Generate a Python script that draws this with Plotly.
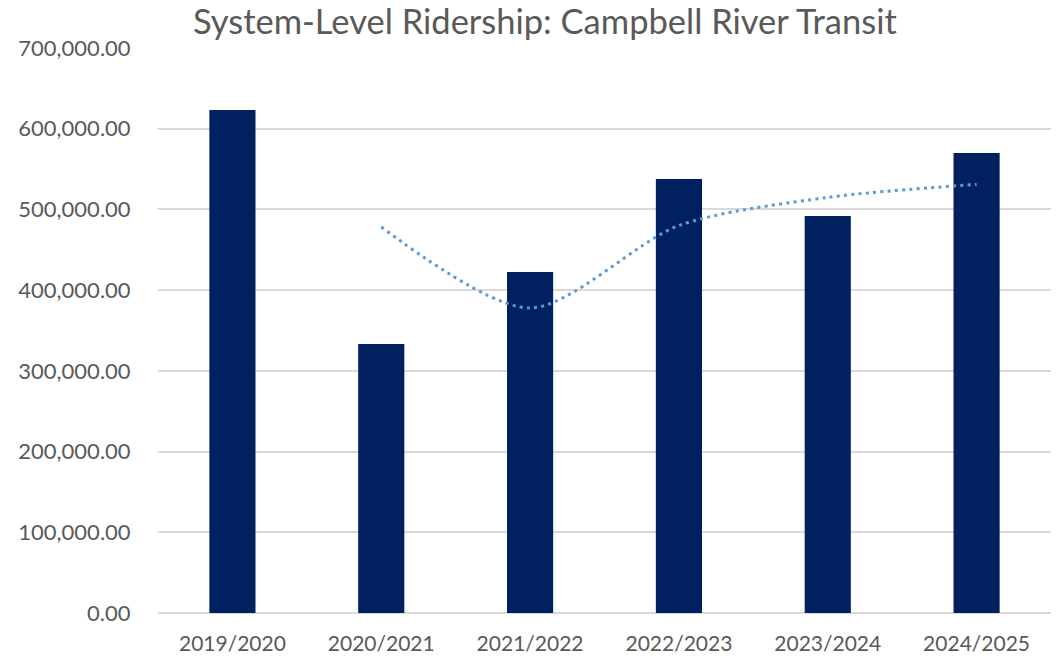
import plotly.graph_objects as go

categories = ["2019/2020", "2020/2021", "2021/2022", "2022/2023", "2023/2024", "2024/2025"]
ridership = [623300, 333300, 422500, 537800, 492000, 570000]
trend_categories = ["2020/2021", "2021/2022", "2022/2023", "2023/2024", "2024/2025"]
trend_values = [478300, 377900, 480100, 514900, 531000]

FONT = "Lato"
GREY = "#595959"

fig = go.Figure()
fig.add_trace(go.Bar(
    x=categories, y=ridership,
    marker=dict(color="#002060", line=dict(width=0)),
    hoverinfo="x+y",
))
fig.add_trace(go.Scatter(
    x=trend_categories, y=trend_values,
    mode="lines",
    line=dict(color="#5B9BD5", width=3, dash="3px,4.3px", shape="spline", smoothing=0.8),
))

fig.update_layout(
    width=1058, height=657,
    margin=dict(l=158, r=7, t=48, b=44, autoexpand=False),
    paper_bgcolor="white", plot_bgcolor="white",
    showlegend=False,
    bargap=0.69,
    title=dict(
        text="System-Level Ridership: Campbell River Transit",
        font=dict(family=FONT, size=34.5, color=GREY),
        xref="container", x=0.515, xanchor="center",
        yref="container", y=1 - 22 / 657, yanchor="middle",
    ),
    font=dict(family=FONT, color=GREY),
)
fig.update_xaxes(
    type="category", automargin=False,
    showgrid=False, showline=False, zeroline=False,
    ticks="outside", ticklen=12, tickcolor="rgba(0,0,0,0)",
    tickfont=dict(family=FONT, size=21, color=GREY),
)
fig.update_yaxes(
    range=[0, 700000], dtick=100000, tickformat=",.2f", automargin=False,
    showgrid=True, gridcolor="#D9D9D9", gridwidth=1.5,
    zeroline=True, zerolinecolor="#D9D9D9", zerolinewidth=1.5,
    showline=False,
    ticks="outside", ticklen=22, tickcolor="rgba(0,0,0,0)",
    tickfont=dict(family=FONT, size=22, color=GREY),
)

fig.write_html(
    "out.html",
    config={"displayModeBar": False},
    post_script="document.body.style.margin='0';document.body.style.padding='0';",
)
